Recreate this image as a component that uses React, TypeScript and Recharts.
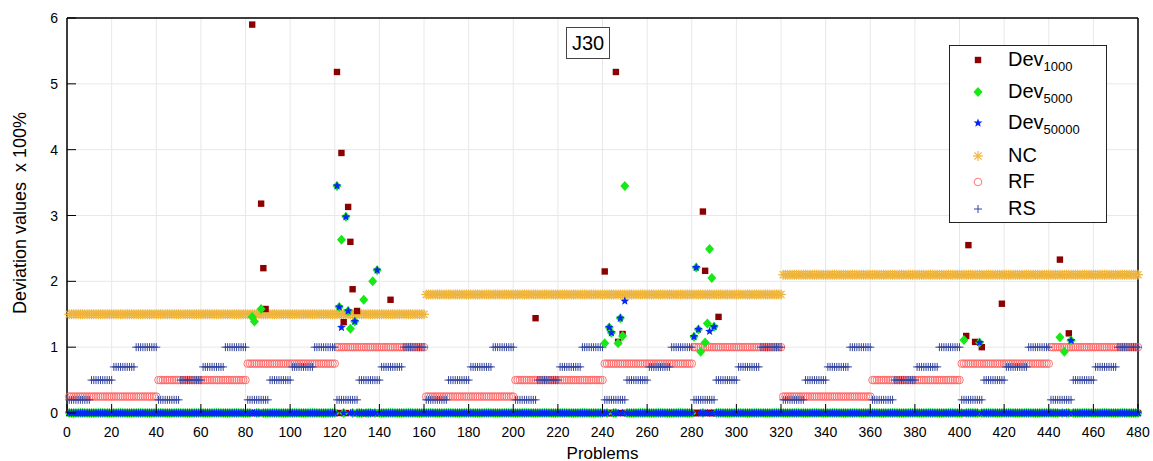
import React from "react";
import { CartesianGrid, Scatter, ScatterChart, XAxis, YAxis } from "recharts";

// NC level per block of 160 problems
const ncLevels = [1.5, 1.8, 2.1];

// RF level per block of 40 problems
const rfLevels = [
  0.25, 0.5, 0.75, 1,
  0.25, 0.5, 0.75, 1,
  0.25, 0.5, 0.75, 1,
];

// RS level per block of 10 problems
const rsLevels = [
  0.2, 0.5, 0.7, 1, 0.2, 0.5, 0.7, 1, 0.2, 0.5, 0.7, 1, 0.2, 0.5, 0.7, 1,
  0.2, 0.5, 0.7, 1, 0.2, 0.5, 0.7, 1, 0.2, 0.5, 0.7, 1, 0.2, 0.5, 0.7, 1,
  0.2, 0.5, 0.7, 1, 0.2, 0.5, 0.7, 1, 0.2, 0.5, 0.7, 1, 0.2, 0.5, 0.7, 1,
];

// non-zero deviations [problem, value]; every other problem is 0
const dev1000Peaks: [number, number][] = [
  [83, 5.9], [87, 3.18], [88, 2.2], [89, 1.58], [121, 5.18], [123, 3.95],
  [124, 1.38], [126, 3.13], [127, 2.6], [128, 1.88], [130, 1.55], [145, 1.72],
  [210, 1.44], [241, 2.15], [246, 5.18], [247, 1.08], [249, 1.2], [285, 3.06],
  [286, 2.16], [292, 1.46], [403, 1.17], [404, 2.55], [407, 1.08], [410, 1.0],
  [419, 1.66], [445, 2.33], [449, 1.21],
];

const dev5000Peaks: [number, number][] = [
  [83, 1.46], [84, 1.39], [87, 1.58], [121, 3.45], [122, 1.61], [123, 2.63],
  [125, 2.98], [126, 1.55], [127, 1.28], [129, 1.39], [133, 1.72], [137, 2.0],
  [139, 2.17], [241, 1.06], [243, 1.3], [244, 1.22], [247, 1.06], [248, 1.44],
  [249, 1.17], [250, 3.45], [281, 1.16], [282, 2.21], [283, 1.27], [284, 0.93],
  [286, 1.07], [287, 1.36], [288, 2.49], [289, 2.05], [290, 1.31], [402, 1.11],
  [409, 1.07], [445, 1.15], [447, 0.93], [450, 1.1],
];

const dev50000Peaks: [number, number][] = [
  [121, 3.45], [122, 1.61], [123, 1.3], [125, 2.98], [126, 1.55], [129, 1.39],
  [139, 2.17], [243, 1.3], [244, 1.22], [248, 1.44], [250, 1.7], [281, 1.16],
  [282, 2.21], [283, 1.27], [288, 1.24], [290, 1.31], [409, 1.07], [450, 1.1],
];

const xTicks = [0, 20, 40, 60, 80, 100, 120, 140, 160, 180, 200, 220, 240, 260, 280, 300, 320, 340, 360, 380, 400, 420, 440, 460, 480];
const yTicks = [0, 1, 2, 3, 4, 5, 6];

const problemCount = 480;
const problemIds = Array.from({ length: problemCount }, (_, i) => i + 1);

const blocks = (levels: number[], run: number) =>
  levels.flatMap((v, g) => Array.from({ length: run }, (_, k) => ({ x: g * run + k + 1, y: v })));

const withZeros = (peaks: [number, number][]) => {
  const m = new Map(peaks);
  return problemIds.map((p) => ({ x: p, y: m.get(p) ?? 0 }));
};

const ncData = blocks(ncLevels, 160);
const rfData = blocks(rfLevels, 40);
const rsData = blocks(rsLevels, 10);
const dev1000Data = withZeros(dev1000Peaks);
const dev5000Data = withZeros(dev5000Peaks);
const dev50000Data = withZeros(dev50000Peaks);

const FONT = "Arial, 'Liberation Sans', sans-serif";

// marker shapes
const Square = ({ cx, cy }: any) => (
  <rect x={cx - 3.2} y={cy - 3.2} width={6.4} height={6.4} fill="#8b0000" />
);
const Diamond = ({ cx, cy }: any) => (
  <polygon
    points={`${cx},${cy - 5} ${cx + 4.5},${cy} ${cx},${cy + 5} ${cx - 4.5},${cy}`}
    fill="#17e817"
  />
);
const starPts = (cx: number, cy: number, ro: number, ri: number) => {
  const pts: string[] = [];
  for (let i = 0; i < 10; i++) {
    const r = i % 2 === 0 ? ro : ri;
    const a = -Math.PI / 2 + (i * Math.PI) / 5;
    pts.push(`${cx + r * Math.cos(a)},${cy + r * Math.sin(a)}`);
  }
  return pts.join(" ");
};
const Star = ({ cx, cy }: any) => <polygon points={starPts(cx, cy, 4.6, 2)} fill="#0528f5" />;
const Asterisk = ({ cx, cy }: any) => (
  <g stroke="#efb43a" strokeWidth={1.2}>
    <line x1={cx - 5} y1={cy} x2={cx + 5} y2={cy} />
    <line x1={cx} y1={cy - 5} x2={cx} y2={cy + 5} />
    <line x1={cx - 3.6} y1={cy - 3.6} x2={cx + 3.6} y2={cy + 3.6} />
    <line x1={cx - 3.6} y1={cy + 3.6} x2={cx + 3.6} y2={cy - 3.6} />
  </g>
);
const Ring = ({ cx, cy }: any) => (
  <circle cx={cx} cy={cy} r={3.8} fill="none" stroke="#ff6464" strokeWidth={0.9} />
);
const Plus = ({ cx, cy }: any) => (
  <g stroke="#34459f" strokeWidth={1}>
    <line x1={cx - 4} y1={cy} x2={cx + 4} y2={cy} />
    <line x1={cx} y1={cy - 4} x2={cx} y2={cy + 4} />
  </g>
);

// inward ticks on all four sides
const TICK = 9;
const BottomTick = ({ x, y, payload }: any) => (
  <g>
    <line x1={x} y1={y} x2={x} y2={y - TICK} stroke="#000" />
    <text x={x} y={y + 24} textAnchor="middle" fontSize={14} fontFamily={FONT} fill="#000">
      {payload.value}
    </text>
  </g>
);
const TopTick = ({ x, y }: any) => <line x1={x} y1={y} x2={x} y2={y + TICK} stroke="#000" />;
const LeftTick = ({ x, y, payload }: any) => (
  <g>
    <line x1={x} y1={y} x2={x + TICK} y2={y} stroke="#000" />
    <text x={x - 9} y={y + 5} textAnchor="end" fontSize={14} fontFamily={FONT} fill="#000">
      {payload.value}
    </text>
  </g>
);
const RightTick = ({ x, y }: any) => <line x1={x} y1={y} x2={x - TICK} y2={y} stroke="#000" />;

const legendItems = [
  { name: "Dev", sub: "1000", Icon: Square, y: 14 },
  { name: "Dev", sub: "5000", Icon: Diamond, y: 46 },
  { name: "Dev", sub: "50000", Icon: Star, y: 77 },
  { name: "NC", sub: "", Icon: Asterisk, y: 110 },
  { name: "RF", sub: "", Icon: Ring, y: 136 },
  { name: "RS", sub: "", Icon: Plus, y: 163 },
];

export default function App() {
  return (
    <div style={{ position: "absolute", left: 0, top: 0, width: 1153, height: 461, background: "#fff", fontFamily: FONT }}>
      <ScatterChart width={1153} height={461} margin={{ top: 0, right: 0, bottom: 18, left: 30 }}>
        <CartesianGrid stroke="#e8e8e8" />
        <XAxis
          dataKey="x"
          type="number"
          domain={[0, 480]}
          ticks={xTicks}
          interval={0}
          height={30}
          tickSize={0}
          tickMargin={0}
          tick={<BottomTick />}
          axisLine={{ stroke: "#000", strokeWidth: 1.5 }}
          tickLine={false}
        />
        <XAxis
          xAxisId="top"
          orientation="top"
          dataKey="x"
          type="number"
          domain={[0, 480]}
          ticks={xTicks}
          interval={0}
          height={18}
          tickSize={0}
          tickMargin={0}
          tick={<TopTick />}
          axisLine={{ stroke: "#000", strokeWidth: 1.5 }}
          tickLine={false}
        />
        <YAxis
          dataKey="y"
          type="number"
          domain={[0, 6]}
          ticks={yTicks}
          interval={0}
          width={37}
          tickSize={0}
          tickMargin={0}
          tick={<LeftTick />}
          axisLine={{ stroke: "#000", strokeWidth: 1.5 }}
          tickLine={false}
        />
        <YAxis
          yAxisId="right"
          orientation="right"
          dataKey="y"
          type="number"
          domain={[0, 6]}
          ticks={yTicks}
          interval={0}
          width={15}
          tickSize={0}
          tickMargin={0}
          tick={<RightTick />}
          axisLine={{ stroke: "#000", strokeWidth: 1.5 }}
          tickLine={false}
        />
        <Scatter name="RF" data={rfData} shape={Ring} isAnimationActive={false} />
        <Scatter name="RS" data={rsData} shape={Plus} isAnimationActive={false} />
        <Scatter name="NC" data={ncData} shape={Asterisk} isAnimationActive={false} />
        <Scatter name="Dev1000" data={dev1000Data} shape={Square} isAnimationActive={false} />
        <Scatter name="Dev5000" data={dev5000Data} shape={Diamond} isAnimationActive={false} />
        <Scatter name="Dev50000" data={dev50000Data} shape={Star} isAnimationActive={false} />
      </ScatterChart>

      {/* title box */}
      <div
        style={{
          position: "absolute", left: 566, top: 27, width: 42, height: 30, border: "1px solid #444",
          background: "#fff", fontSize: 20, lineHeight: "30px", textAlign: "center", color: "#000",
        }}
      >
        J30
      </div>

      {/* legend */}
      <div
        style={{
          position: "absolute", left: 949, top: 45, width: 156, height: 176,
          border: "1px solid #222", background: "#fff",
        }}
      >
        {legendItems.map(({ name, sub, Icon, y }) => (
          <React.Fragment key={name + sub}>
            <svg style={{ position: "absolute", left: 20, top: y - 8 }} width={16} height={16}>
              <Icon cx={8} cy={8} />
            </svg>
            <div style={{ position: "absolute", left: 58, top: y - 13, fontSize: 20, lineHeight: "24px", whiteSpace: "nowrap", color: "#000" }}>
              {name}
              {sub && <span style={{ fontSize: 13, position: "relative", top: 5 }}>{sub}</span>}
            </div>
          </React.Fragment>
        ))}
      </div>

      {/* axis titles */}
      <div style={{ position: "absolute", left: 0, width: 1205, top: 444, textAlign: "center", fontSize: 17, color: "#000" }}>
        Problems
      </div>
      <div style={{ position: "absolute", left: 20, top: 213, width: 0, height: 0, overflow: "visible" }}>
        <div
          style={{
            position: "absolute", left: 0, top: 0, transform: "translate(-50%, -50%) rotate(-90deg)",
            fontSize: 18, whiteSpace: "pre", color: "#000",
          }}
        >
          {"Deviation values  x 100%"}
        </div>
      </div>
    </div>
  );
}
